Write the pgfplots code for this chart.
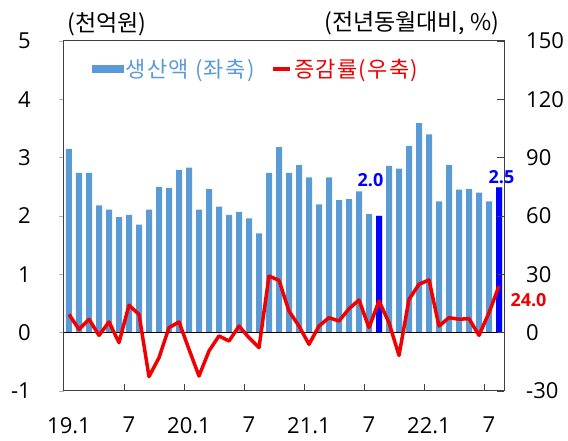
\documentclass[border=0pt]{standalone}
\usepackage{fontspec}
\setmainfont{Open Sans}
\newfontfamily\kr{Noto Sans CJK KR}
\newfontfamily\krl[LetterSpace=6]{Noto Sans CJK KR}
\usepackage{pgfplots}
\usepackage{pgfplotstable}
\pgfplotsset{compat=1.18}
\definecolor{barblue}{HTML}{5B9BD5}
\definecolor{darkblue}{HTML}{0000FF}
\definecolor{framegray}{HTML}{404040}
\definecolor{linered}{HTML}{F00000}

\pgfplotstableread{
x bar chg
0 3.15 9.4
1 2.74 1.7
2 2.74 6.9
3 2.18 -1.4
4 2.11 5.5
5 1.98 -5.1
6 2.02 14.1
7 1.85 9.4
8 2.11 -22.6
9 2.50 -12.9
10 2.48 2.6
11 2.79 5.5
12 2.83 -8.6
13 2.11 -22.3
14 2.46 -9.4
15 2.16 -1.7
16 2.02 -4.3
17 2.07 3.4
18 1.96 -2.6
19 1.70 -7.7
20 2.74 29.1
21 3.18 26.9
22 2.74 11.1
23 2.87 3.4
24 2.66 -6.0
25 2.20 3.4
26 2.66 7.7
27 2.27 6.0
28 2.29 12.3
29 2.42 16.8
30 2.03 2.6
31 2.00 16.3
32 2.86 5.1
33 2.81 -11.7
34 3.20 17.1
35 3.59 24.9
36 3.40 27.1
37 2.25 3.4
38 2.87 7.7
39 2.45 6.9
40 2.46 7.2
41 2.40 -1.4
42 2.25 10.3
43 2.49 24.0
}\datatable

\begin{document}
\begin{tikzpicture}
\begin{axis}[
  name=ax1,
  scale only axis, width=440pt, height=350pt,
  xmin=-0.5, xmax=43.5, ymin=-1, ymax=5,
  ytick={-1,0,...,5}, yticklabels={-1,0,1,2,3,4,5},
  ytick pos=left,
  xtick={0,6,...,42}, xticklabels={19.1,7,20.1,7,21.1,7,22.1,7},
  xtick pos=bottom,
  xtick style={draw=none},
  tick align=outside,
  ytick style={draw=gray!60, line width=0.8pt},
  major tick length=5pt,
  axis line style={color=framegray, line width=1pt},
  ticklabel style={font=\fontsize{22}{24}\selectfont, inner sep=0pt},
  yticklabel style={anchor=east},
  yticklabel shift=28pt,
  xticklabel style={anchor=north},
  xticklabel shift=21pt,
  /pgf/number format/assume math mode=true,
  clip=false,
]
\addplot[ybar, bar width=6pt, bar shift=0pt, fill=barblue, draw=none] table[x=x, y=bar] {\datatable};
\addplot[ybar, bar width=6pt, bar shift=0pt, fill=darkblue, draw=none] coordinates {(31,2.00) (43,2.49)};
\addplot[black, line width=1pt] coordinates {(-0.5,0) (43.5,0)};
\node[font=\bfseries\fontsize{18}{18}\selectfont, text=darkblue] at (axis cs:31,2.0) [xshift=-8.5pt, yshift=36pt] {2.0};
\node[font=\bfseries\fontsize{18}{18}\selectfont, text=darkblue] at (axis cs:43,2.49) [xshift=2.5pt, yshift=10pt] {2.5};
\node[font=\kr\fontsize{23}{25}\selectfont] at (rel axis cs:0,1) [xshift=43pt, yshift=17pt] {(천억원)};
\node[font=\kr\fontsize{23}{25}\selectfont, anchor=east] at (rel axis cs:1,1) [xshift=-1pt, yshift=18pt] {(전년동월대비, \%)};
\end{axis}
\begin{axis}[
  scale only axis, width=440pt, height=350pt,
  xmin=-0.5, xmax=43.5, ymin=-30, ymax=150,
  ytick={-30,0,...,150}, yticklabels={-30,0,30,60,90,120,150},
  axis y line*=right, axis x line*=bottom,
  xtick={5.5,11.5,...,41.5}, xticklabels={},
  tick align=inside,
  major tick length=7pt,
  tick style={draw=framegray, line width=0.8pt},
  axis line style={color=framegray, line width=1pt},
  ticklabel style={font=\fontsize{22}{24}\selectfont, inner sep=0pt},
  yticklabel style={anchor=west},
  yticklabel shift=22pt,
  /pgf/number format/assume math mode=true,
  clip=false,
  legend style={at={(axis description cs:0.0636,0.92)}, anchor=west, draw=none, fill=none,
    inner sep=0pt, font=\krl\fontsize{22}{24}\selectfont, nodes={inner sep=2pt}},
  legend columns=2,
  legend cell align=left,
  /tikz/every even column/.append style={column sep=15pt},
]
\addlegendimage{legend image code/.code={\fill[barblue] (0pt,-3.5pt) rectangle (31pt,3.5pt);}}
\addlegendentry{\textcolor{barblue}{생산액 (좌축)}}
\addplot[linered, line width=3.5pt, line join=round] table[x=x, y=chg] {\datatable};
\addlegendentry{\textcolor{linered}{증감률(우축)}}
\node[font=\bfseries\fontsize{18}{18}\selectfont, text=linered] at (axis cs:43,24.0) [xshift=29.5pt, yshift=-14.5pt] {24.0};
\end{axis}
\pgfresetboundingbox
\path ([shift={(-64pt,-50pt)}]ax1.south west) rectangle ([shift={(64pt,41pt)}]ax1.north east);
\end{tikzpicture}
\end{document}
